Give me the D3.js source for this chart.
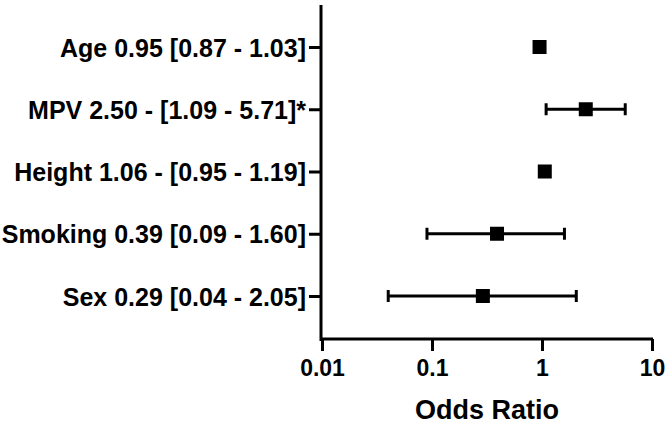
<!DOCTYPE html>
<html><head><meta charset="utf-8">
<script src="https://cdn.jsdelivr.net/npm/d3@7"></script>
<style>body{margin:0;background:#fff}svg{display:block}text{font-family:"Liberation Sans",Arial,sans-serif;font-weight:bold;fill:#000}</style>
</head><body><div id="chart"></div>
<script>
const labels = ["Age 0.95 [0.87 - 1.03]","MPV 2.50 - [1.09 - 5.71]*","Height 1.06 - [0.95 - 1.19]","Smoking 0.39 [0.09 - 1.60]","Sex 0.29 [0.04 - 2.05]"];
const oddsRatio = [0.95, 2.50, 1.06, 0.39, 0.29];
const ciLow = [0.87, 1.09, 0.95, 0.09, 0.04];
const ciHigh = [1.03, 5.71, 1.19, 1.60, 2.05];
const xTicks = [0.01, 0.1, 1, 10];
const xTickLabels = ["0.01","0.1","1","10"];

const W=668,H=424;
const svg=d3.select("#chart").append("svg").attr("width",W).attr("height",H);
const x=d3.scaleLog().domain([0.01,10]).range([322,652]);
const y=d3.scalePoint().domain(labels).range([47,296]);

const data=labels.map((l,i)=>({l,or:oddsRatio[i],lo:ciLow[i],hi:ciHigh[i]}));

// y axis
const yAxis=d3.axisLeft(y).tickSize(12).tickPadding(3);
const gy=svg.append("g").attr("transform","translate(321,0)").call(yAxis);
gy.select(".domain").remove();
gy.selectAll(".tick line").attr("stroke","#000").attr("stroke-width",3);
gy.selectAll(".tick text").style("font-size","25px").attr("dy","0.36em");
svg.append("line").attr("x1",321).attr("x2",321).attr("y1",5).attr("y2",341).attr("stroke","#000").attr("stroke-width",3);

// x axis
const xAxis=d3.axisBottom(x).tickValues(xTicks).tickFormat((d,i)=>xTickLabels[i]).tickSize(12).tickPadding(9);
const gx=svg.append("g").attr("transform","translate(0,339)").call(xAxis);
gx.select(".domain").remove();
gx.selectAll(".tick line").attr("stroke","#000").attr("stroke-width",3);
gx.selectAll(".tick text").style("font-size","23px");
svg.append("line").attr("x1",320).attr("x2",653).attr("y1",339).attr("y2",339).attr("stroke","#000").attr("stroke-width",3);

svg.append("text").attr("x",487).attr("y",419).attr("text-anchor","middle").style("font-size","27px").text("Odds Ratio");

// error bars
const eb=svg.append("g").selectAll("g").data(data.filter(d=>x(d.hi)-x(d.lo)>16)).join("g");
eb.append("line").attr("x1",d=>x(d.lo)).attr("x2",d=>x(d.hi)).attr("y1",d=>y(d.l)).attr("y2",d=>y(d.l)).attr("stroke","#000").attr("stroke-width",3);
eb.append("line").attr("x1",d=>x(d.lo)).attr("x2",d=>x(d.lo)).attr("y1",d=>y(d.l)-6).attr("y2",d=>y(d.l)+6).attr("stroke","#000").attr("stroke-width",3);
eb.append("line").attr("x1",d=>x(d.hi)).attr("x2",d=>x(d.hi)).attr("y1",d=>y(d.l)-6).attr("y2",d=>y(d.l)+6).attr("stroke","#000").attr("stroke-width",3);

// markers
svg.append("g").selectAll("rect").data(data).join("rect")
 .attr("x",d=>x(d.or)-7).attr("y",d=>y(d.l)-7).attr("width",14).attr("height",14).attr("fill","#000");
</script></body></html>
